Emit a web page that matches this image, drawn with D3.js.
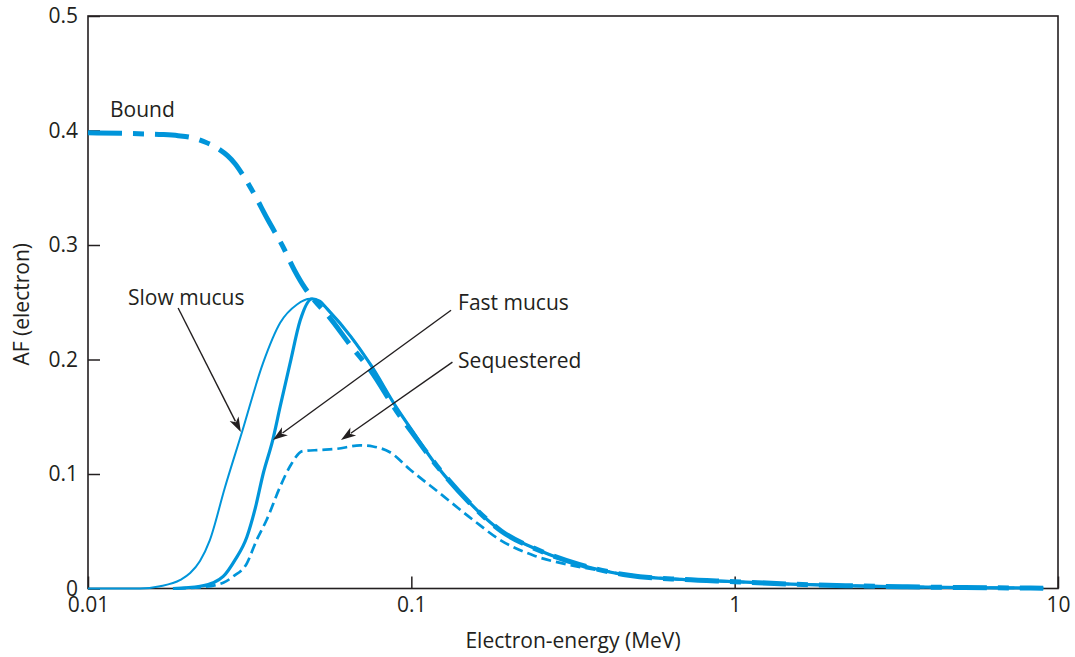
<!DOCTYPE html>
<html><head><meta charset="utf-8">
<script src="https://cdn.jsdelivr.net/npm/d3@7/dist/d3.min.js"></script>
<style>
html,body{margin:0;padding:0;background:#fff;}
svg text{font-family:"Open Sans","Noto Sans",sans-serif;fill:#231f20;}
</style></head>
<body>
<svg id="chart" width="1075" height="657"></svg>
<script>
// ---- data (energy in MeV, AF) ----
const boundE  = [0.01,0.015,0.017,0.019,0.0215,0.023,0.025,0.027,0.0285,0.030,0.032,0.036,0.040,0.0435,0.047,0.050,0.055,0.065,0.075,0.09,0.1,0.12,0.15,0.19,0.25,0.33,0.47,0.7,1.0,1.5,2.2,3.3,4.5,6.5,9.0];
const boundAF = [0.398,0.397,0.3965,0.3955,0.393,0.390,0.385,0.378,0.371,0.362,0.349,0.322,0.299,0.278,0.262,0.252,0.239,0.212,0.190,0.155,0.137,0.107,0.076,0.050,0.033,0.021,0.0115,0.0078,0.006,0.0038,0.0025,0.0015,0.001,0.0006,0.0003];

const slowE  = [0.01,0.0145,0.0167,0.0193,0.0207,0.0222,0.0238,0.0265,0.0299,0.0348,0.0393,0.0443,0.0486,0.052,0.055,0.065,0.075,0.09,0.1,0.12,0.15,0.19,0.25,0.33,0.47,0.7,1.0,1.5,2.2,3.3,4.5,6.5,9.0];
const slowAF = [0,0,0.002,0.0075,0.0135,0.024,0.042,0.088,0.136,0.197,0.232,0.248,0.253,0.251,0.244,0.220,0.195,0.158,0.139,0.107,0.076,0.050,0.033,0.021,0.0115,0.0078,0.006,0.0038,0.0025,0.0015,0.001,0.0006,0.0003];

const fastE  = [0.0183,0.0222,0.0244,0.0262,0.0285,0.031,0.0329,0.0348,0.0373,0.0393,0.0422,0.0453,0.0493,0.052,0.055,0.065,0.075,0.09,0.1,0.12,0.15,0.19,0.25,0.33,0.47,0.7,1.0,1.5,2.2,3.3,4.5,6.5,9.0];
const fastAF = [0,0.002,0.005,0.0105,0.025,0.045,0.070,0.100,0.130,0.159,0.197,0.234,0.253,0.251,0.244,0.220,0.195,0.158,0.139,0.107,0.076,0.050,0.033,0.021,0.0115,0.0078,0.006,0.0038,0.0025,0.0015,0.001,0.0006,0.0003];

const seqE  = [0.0187,0.0222,0.0262,0.0281,0.031,0.0332,0.0357,0.0393,0.0422,0.0462,0.0522,0.0588,0.0694,0.0761,0.0859,0.099,0.1227,0.1551,0.188,0.238,0.303,0.4,0.5,0.7,1.0,1.5,2.2,3.3,4.5,6.5,9.0];
const seqAF = [0,0.001,0.005,0.0105,0.022,0.042,0.060,0.089,0.107,0.120,0.121,0.122,0.125,0.124,0.119,0.104,0.083,0.060,0.0425,0.029,0.021,0.015,0.011,0.0078,0.006,0.0038,0.0025,0.0015,0.001,0.0006,0.0003];

const xTicks = [0.01,0.1,1,10];
const xTickLabels = ["0.01","0.1","1","10"];
const yTicks = [0,0.1,0.2,0.3,0.4,0.5];
const yTickLabels = ["0","0.1","0.2","0.3","0.4","0.5"];

// labels: [text, E, AF] (text anchor start, baseline)
const labelText = ["Bound","Slow mucus","Fast mucus","Sequestered"];
const labelE    = [0.0117,0.0133,0.1395,0.1395];
const labelAF   = [0.412,0.248,0.243,0.193];
// arrows: from (E,AF) to (E,AF)
const arrowFromE  = [0.0190,0.1327,0.1340];
const arrowFromAF = [0.245,0.243,0.1977];
const arrowToE    = [0.0297,0.0373,0.0606];
const arrowToAF   = [0.1366,0.1296,0.1296];

// ---- layout ----
const svg = d3.select("#chart");
const L=88, R=1058, T=16, B=588.5;
const x = d3.scaleLog().domain([0.01,10]).range([L,R]);
const y = d3.scaleLinear().domain([0,0.5]).range([B,T]);
const blue = "#0095da";
const ink = "#231f20";
const fs = 21;

// axes
const xAxis = d3.axisBottom(x).tickValues(xTicks).tickSize(-12).tickPadding(9)
  .tickFormat((d,i)=>xTickLabels[i]);
const gx = svg.append("g").attr("transform",`translate(0,${B})`).call(xAxis);
gx.select(".domain").remove();
gx.selectAll("line").attr("stroke",ink).attr("stroke-width",1.5);
gx.selectAll("text").attr("font-size",fs).style("fill",ink);

const yAxis = d3.axisLeft(y).tickValues(yTicks).tickSize(-12).tickPadding(10)
  .tickFormat((d,i)=>yTickLabels[i]);
const gy = svg.append("g").attr("transform",`translate(${L},0)`).call(yAxis);
gy.select(".domain").remove();
gy.selectAll("line").attr("stroke",ink).attr("stroke-width",1.5);
gy.selectAll("text").attr("font-size",fs).style("fill",ink);

// frame
svg.append("rect").attr("x",L).attr("y",T).attr("width",R-L).attr("height",B-T)
  .attr("fill","none").attr("stroke",ink).attr("stroke-width",1.6);

// titles
svg.append("text").attr("x",(L+R)/2).attr("y",648).attr("text-anchor","middle")
  .attr("font-size",fs).text("Electron-energy (MeV)");
svg.append("text").attr("transform",`translate(29,${(T+B)/2+2}) rotate(-90)`)
  .attr("text-anchor","middle").attr("font-size",fs).text("AF (electron)");

// curves
const line = d3.line().x(d=>x(d[0])).y(d=>y(d[1])).curve(d3.curveMonotoneX);
function series(E,A){return E.map((e,i)=>[e,A[i]]);}

svg.append("path").datum(series(seqE,seqAF)).attr("d",line)
  .attr("fill","none").attr("stroke",blue).attr("stroke-width",2.7)
  .attr("stroke-dasharray","10,5");
svg.append("path").datum(series(slowE,slowAF)).attr("d",line)
  .attr("fill","none").attr("stroke",blue).attr("stroke-width",2);
svg.append("path").datum(series(fastE,fastAF)).attr("d",line)
  .attr("fill","none").attr("stroke",blue).attr("stroke-width",3.2);
svg.append("path").datum(series(boundE,boundAF)).attr("d",line)
  .attr("fill","none").attr("stroke",blue).attr("stroke-width",5)
  .attr("stroke-dasharray","34,11,11,11");

// labels
labelText.forEach((t,i)=>{
  svg.append("text").attr("x",x(labelE[i])).attr("y",y(labelAF[i]))
    .attr("font-size",fs).text(t);
});

// arrows
arrowFromE.forEach((e,i)=>{
  const x0=x(e), y0=y(arrowFromAF[i]), x1=x(arrowToE[i]), y1=y(arrowToAF[i]);
  const ang=Math.atan2(y1-y0,x1-x0), len=15, w=5;
  const bx=x1-len*Math.cos(ang), by=y1-len*Math.sin(ang);
  svg.append("line").attr("x1",x0).attr("y1",y0).attr("x2",bx+3*Math.cos(ang)).attr("y2",by+3*Math.sin(ang))
    .attr("stroke",ink).attr("stroke-width",1.4);
  const px=-Math.sin(ang), py=Math.cos(ang);
  const ix=x1-(len-4)*Math.cos(ang), iy=y1-(len-4)*Math.sin(ang);
  svg.append("path").attr("d",`M${x1},${y1}L${bx+w*px},${by+w*py}L${ix},${iy}L${bx-w*px},${by-w*py}Z`)
    .attr("fill",ink);
});
</script>
</body></html>
